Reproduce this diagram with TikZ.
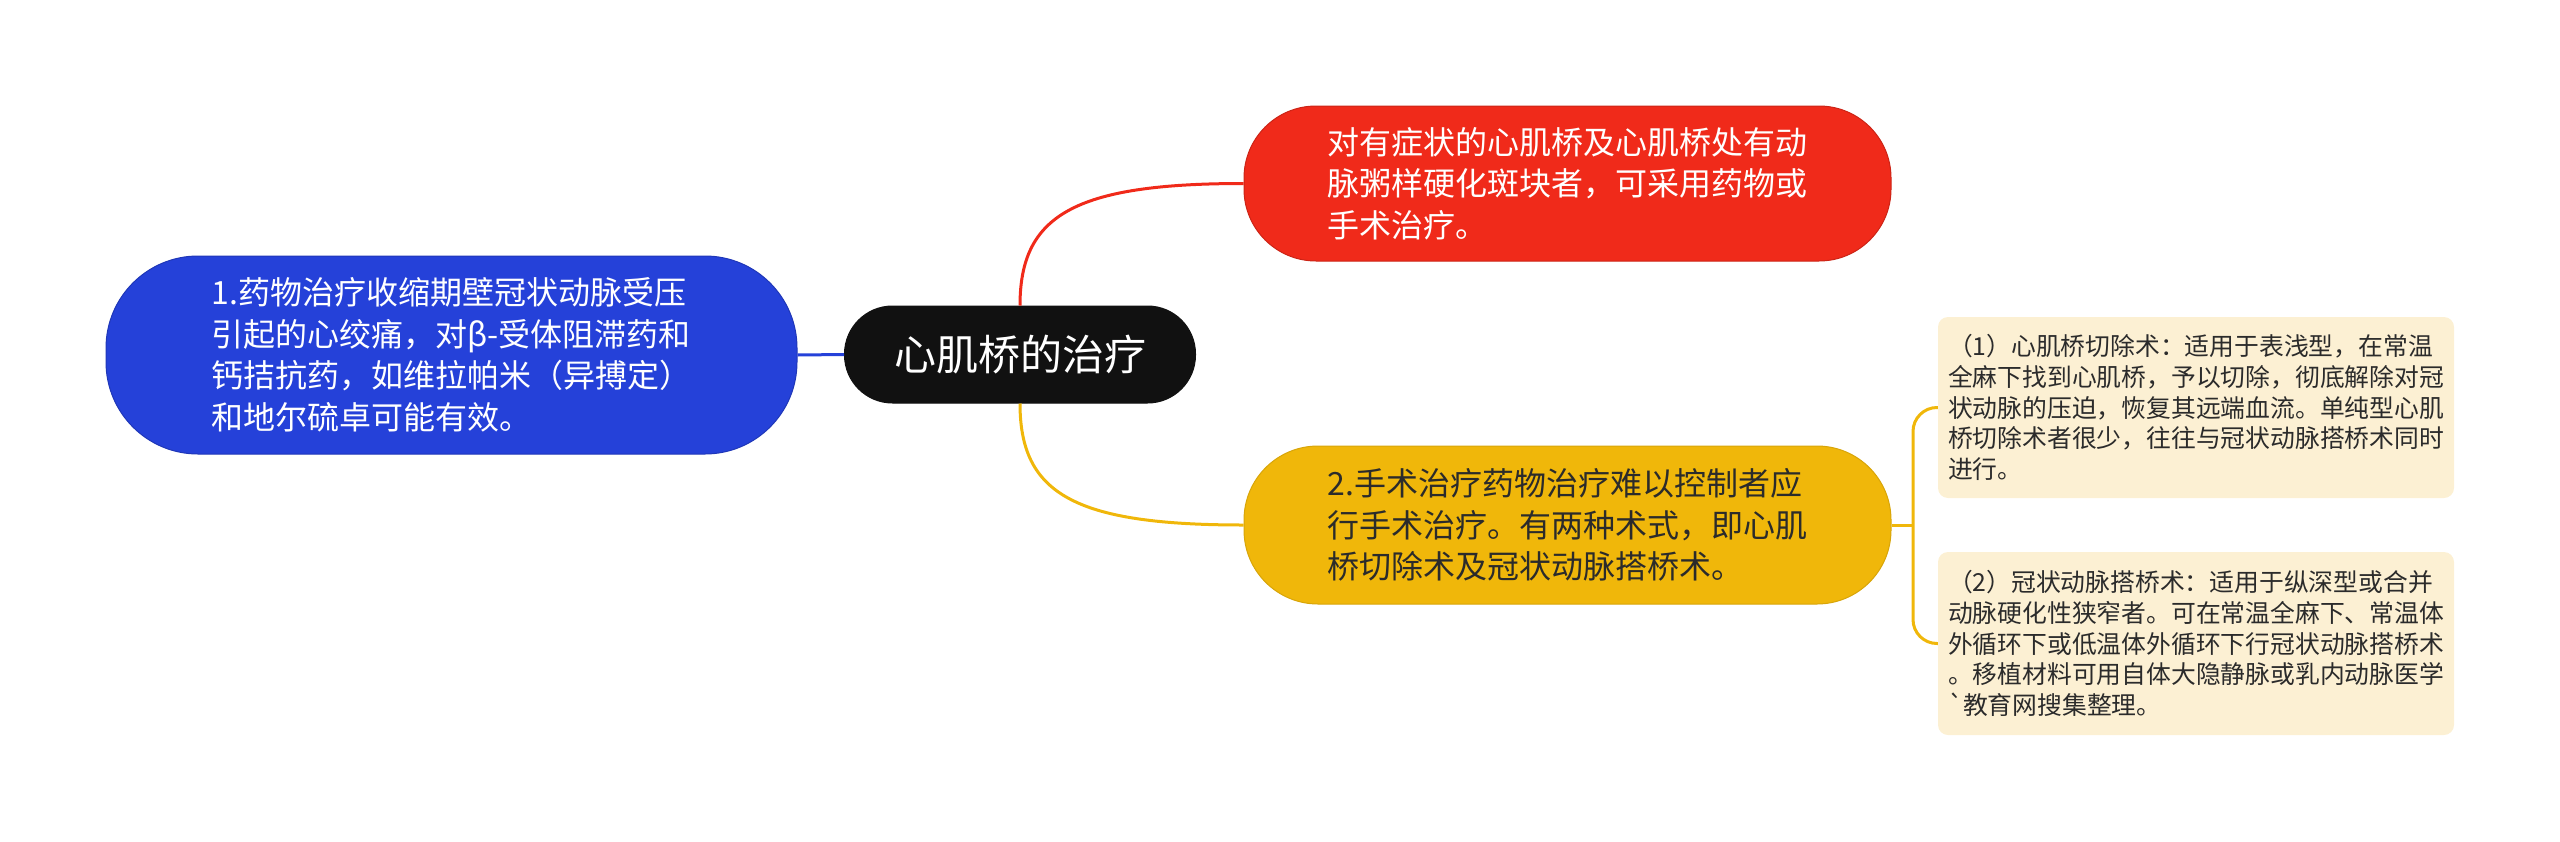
\documentclass[tikz,border=0pt]{standalone}
\usepackage{fontspec}
\newfontfamily\cjk{Noto Sans CJK SC}
\definecolor{cred}{HTML}{F02A1A}
\definecolor{cblue}{HTML}{2541D9}
\definecolor{cyel}{HTML}{F0B70A}
\definecolor{csub}{HTML}{FCF0D3}
\definecolor{cblack}{HTML}{111111}
\definecolor{ctext}{HTML}{2B2B2B}
\tikzset{
  pill/.style={inner sep=0pt, align=left, line width=1pt},
  mainfont/.style={font={\cjk\fontsize{32}{41.6}\selectfont}},
  subbox/.style={inner sep=0pt, align=left, fill=csub, rounded corners=10pt,
    minimum width=516pt, text=ctext, font={\cjk\fontsize{24.8}{30.6}\selectfont}},
  cline/.style={line width=3pt}
}
\begin{document}
\begin{tikzpicture}[x=1pt,y=-1pt]
\useasboundingbox (0,0) rectangle (2560,841);
% central
\node[pill, fill=cblack, draw=cblack, rounded corners=48pt, minimum width=351pt, minimum height=97pt,
  text=white, font={\cjk\fontsize{42}{50}\selectfont}] (c) at (1020,354.5) {心肌桥的治疗};
% red
\node[pill, mainfont, fill=cred, draw=cred!85!black, rounded corners=72pt, minimum width=647pt,
  minimum height=155pt, text=white] (red) at (1567.5,183.5)
  {对有症状的心肌桥及心肌桥处有动\\脉粥样硬化斑块者，可采用药物或\\手术治疗。};
% blue
\node[pill, mainfont, fill=cblue, draw=cblue!85!black, rounded corners=92pt, minimum width=691pt,
  minimum height=198pt, text=white] (blue) at (451.5,355)
  {1.药物治疗收缩期壁冠状动脉受压\\引起的心绞痛，对β-受体阻滞药和\\钙拮抗药，如维拉帕米（异搏定）\\和地尔硫卓可能有效。};
% yellow
\node[pill, mainfont, fill=cyel, draw=cyel!90!black, rounded corners=74pt, minimum width=647pt,
  minimum height=158pt, text=ctext] (yel) at (1567.5,525)
  {2.手术治疗药物治疗难以控制者应\\行手术治疗。有两种术式，即心肌\\桥切除术及冠状动脉搭桥术。};
% sub boxes
\node[subbox, minimum height=181pt] (s1) at (2196,407.5)
  {（1）心肌桥切除术：适用于表浅型，在常温\\全麻下找到心肌桥，予以切除，彻底解除对冠\\状动脉的压迫，恢复其远端血流。单纯型心肌\\桥切除术者很少，往往与冠状动脉搭桥术同时\\进行。};
\node[subbox, minimum height=183pt] (s2) at (2196,643.5)
  {（2）冠状动脉搭桥术：适用于纵深型或合并\\动脉硬化性狭窄者。可在常温全麻下、常温体\\外循环下或低温体外循环下行冠状动脉搭桥术\\。移植材料可用自体大隐静脉或乳内动脉医学\\`教育网搜集整理。};
% connectors
\draw[cline, cblue] (c.west) -- (blue.east);
\draw[cline, cred] (c.north) .. controls +(0,-90) and +(-170,0) .. (red.west);
\draw[cline, cyel] (c.south) .. controls +(0,90) and +(-170,0) .. (yel.west);
\coordinate (yj) at (1913,525);
\draw[cline, cyel] (yel.east) -- (yj);
\draw[cline, cyel, rounded corners=24pt] (s1.west) -| (yj) |- (s2.west);
\end{tikzpicture}
\end{document}
